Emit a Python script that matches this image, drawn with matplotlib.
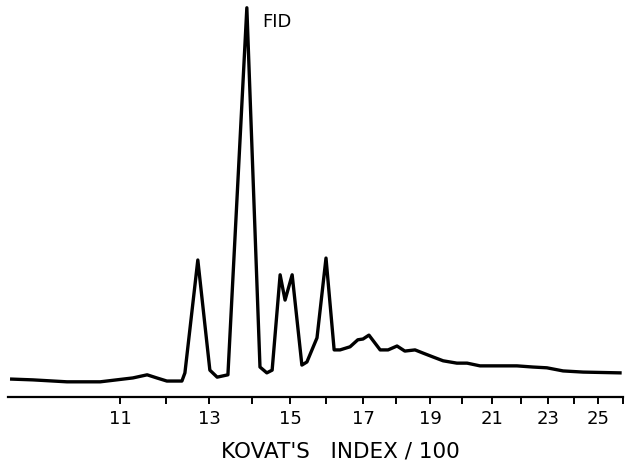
import numpy as np
import matplotlib
matplotlib.use("Agg")
import matplotlib.pyplot as plt

# Kovats index (x100) of points along the trace and detector response (% of largest peak)
kovats = [8.65, 9.11, 9.85, 10.57, 11.28, 11.59, 11.80, 12.02, 12.37, 12.44,
          12.74, 13.02, 13.19, 13.44, 13.88, 14.21, 14.39, 14.53, 14.74, 14.87,
          15.06, 15.33, 15.47, 15.75, 16.00, 16.22, 16.38, 16.65, 16.86, 17.00,
          17.18, 17.52, 17.76, 18.03, 18.26, 18.56, 18.79, 19.09, 19.41, 19.84,
          20.17, 20.60, 21.28, 21.86, 22.44, 22.96, 23.58, 24.38, 25.88]
response = [4.6, 4.4, 3.9, 3.9, 4.9, 5.7, 4.9, 4.1, 4.1, 6.2,
            35.2, 6.9, 5.1, 5.7, 100.0, 7.7, 6.2, 6.9, 31.4, 24.9,
            31.4, 8.2, 9.0, 15.2, 35.7, 12.1, 12.1, 12.9, 14.7, 14.9,
            15.9, 12.1, 12.1, 13.1, 11.8, 12.1, 11.3, 10.3, 9.3, 8.7,
            8.7, 8.0, 8.0, 8.0, 7.7, 7.5, 6.7, 6.4, 6.2]

# n-alkane markers (carbon number) and where they elute along the chart
alkane_c = [8.57, 11, 12, 13, 14, 15, 16, 17, 18, 19, 20, 21, 22, 23, 24, 25, 26]
alkane_rt = [8, 120, 166, 209, 252, 290, 326, 363, 396, 430, 462, 492, 521, 548,
             574, 598, 623]

tick_idx = list(range(11, 27))
label_idx = list(range(11, 26, 2))


def forward(x):
    return np.interp(x, alkane_c, alkane_rt)


def inverse(x):
    return np.interp(x, alkane_rt, alkane_c)


fig = plt.figure(figsize=(6.29, 4.66), dpi=100)
ax = fig.add_axes([8 / 629, 69 / 466, 615 / 629, 397 / 466])

ax.set_xscale("function", functions=(forward, inverse))
ax.plot(kovats, response, color="black", lw=2.4, solid_joinstyle="round")

ax.set_xlim(alkane_c[0], alkane_c[-1])
ax.set_ylim(0, 102)

for side in ["top", "right", "left"]:
    ax.spines[side].set_visible(False)
ax.spines["bottom"].set_linewidth(1.6)
ax.set_yticks([])

ax.set_xticks(tick_idx)
ax.set_xticklabels([str(i) if i in label_idx else "" for i in tick_idx])
ax.xaxis.set_minor_locator(matplotlib.ticker.NullLocator())
ax.tick_params(axis="x", direction="out", length=5, width=1.4, pad=4,
               labelsize=13)

ax.set_xlabel("KOVAT'S   INDEX / 100", fontsize=15.5)
ax.xaxis.set_label_coords(0.54, -0.112)

ax.text(14.26, 96.4, "FID", fontsize=13, ha="left", va="center")

fig.savefig("out.png", dpi=100)
